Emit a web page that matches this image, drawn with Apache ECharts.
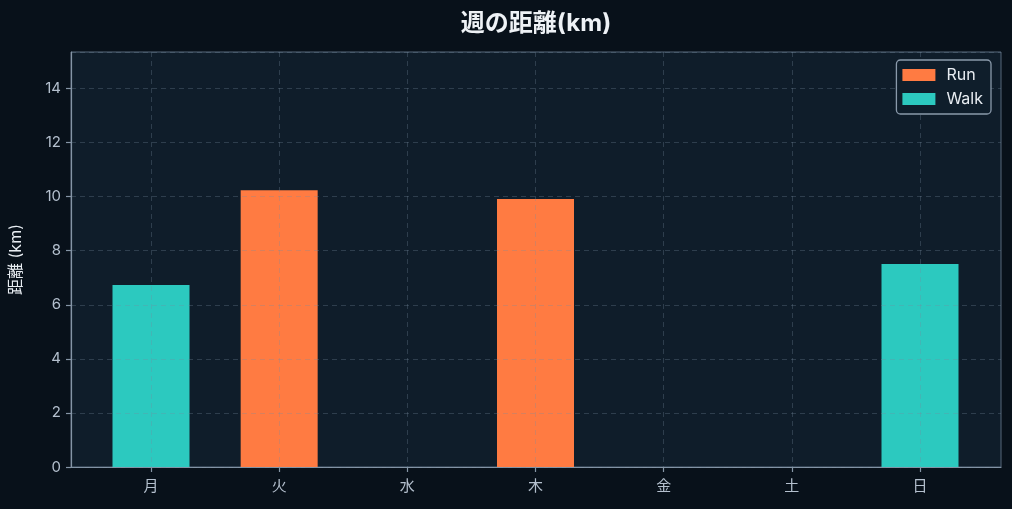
<!DOCTYPE html>
<html>
<head>
<meta charset="utf-8">
<script src="https://cdn.jsdelivr.net/npm/echarts@6/dist/echarts.min.js"></script>
<style>
  html, body { margin: 0; padding: 0; background: #08111a; }
  #chart { width: 1012px; height: 509px; }
</style>
</head>
<body>
<div id="chart"></div>
<script>
// ── Data ─────────────────────────────────────────────
const days = ['月', '火', '水', '木', '金', '土', '日']
const runKm = [null, 10.24, null, 9.91, null, null, null]
const walkKm = [6.73, null, null, null, null, null, 7.51]
const yMax = 15.35

const FONT = "Inter, 'Noto Sans CJK JP', sans-serif"
const LABEL = '#b4c0ce'
const LINE = '#8595a6'
const GRIDLINE = 'rgba(120, 140, 160, 0.3)'

const chart = echarts.init(document.getElementById('chart'))

chart.setOption({
  backgroundColor: '#08111a',
  animation: false,
  textStyle: { fontFamily: FONT },
  title: {
    text: '週の距離(km)',
    left: 531,
    textAlign: 'center',
    top: 7,
    textStyle: { color: '#eef2f6', fontSize: 24, fontWeight: 'bold', fontFamily: FONT }
  },
  legend: {
    orient: 'vertical',
    right: 21,
    top: 60,
    padding: [7, 8, 7, 6],
    itemWidth: 33,
    itemHeight: 12,
    itemGap: 8,
    backgroundColor: '#0f1e2b',
    borderColor: '#8a9aab',
    borderWidth: 1.3,
    borderRadius: 4,
    textStyle: { color: '#e8edf2', fontSize: 16, fontFamily: FONT, padding: [0, 0, 0, 6] },
    data: [{ name: 'Run', icon: 'rect' }, { name: 'Walk', icon: 'rect' }]
  },
  grid: [
    { left: 71, right: 11, top: 52, bottom: 42, show: true, backgroundColor: '#0f1d2a', borderColor: '#56687a', borderWidth: 1 },
    { left: 151, right: 92, top: 52, bottom: 42 }
  ],
  xAxis: [
    {
      gridIndex: 0, type: 'value', min: 0, max: 1,
      axisLine: { show: true, onZero: false, lineStyle: { color: LINE, width: 1.2 } },
      axisTick: { show: false }, axisLabel: { show: false }, splitLine: { show: false }
    },
    {
      gridIndex: 1, type: 'category', data: days, boundaryGap: false, z: 3,
      axisLine: { show: false },
      axisTick: { show: true, length: 5, lineStyle: { color: LINE, width: 1.2 } },
      axisLabel: { color: LABEL, fontSize: 15, margin: 12 },
      splitLine: { show: true, lineStyle: { color: GRIDLINE, type: [5, 4] } }
    }
  ],
  yAxis: [
    {
      gridIndex: 0, type: 'value', min: 0, max: yMax, interval: 2, z: 3,
      name: '距離 (km)', nameLocation: 'middle', nameGap: 47,
      nameTextStyle: { color: '#e8edf2', fontSize: 16, fontFamily: FONT },
      axisLine: { show: true, lineStyle: { color: LINE, width: 1.2 } },
      axisTick: { show: true, length: 5, lineStyle: { color: LINE, width: 1.2 } },
      axisLabel: { color: LABEL, fontSize: 15, margin: 10, showMaxLabel: false },
      splitLine: { show: true, lineStyle: { color: GRIDLINE, type: [5, 4] } }
    },
    { gridIndex: 1, type: 'value', min: 0, max: yMax, show: false }
  ],
  series: [
    {
      name: 'Run', type: 'bar', stack: 'total', xAxisIndex: 1, yAxisIndex: 1,
      data: runKm, barWidth: 77, clip: false,
      itemStyle: { color: '#ff7b42' }
    },
    {
      name: 'Walk', type: 'bar', stack: 'total', xAxisIndex: 1, yAxisIndex: 1,
      data: walkKm, barWidth: 77, clip: false,
      itemStyle: { color: '#2cc9bf' }
    }
  ]
})
</script>
</body>
</html>
